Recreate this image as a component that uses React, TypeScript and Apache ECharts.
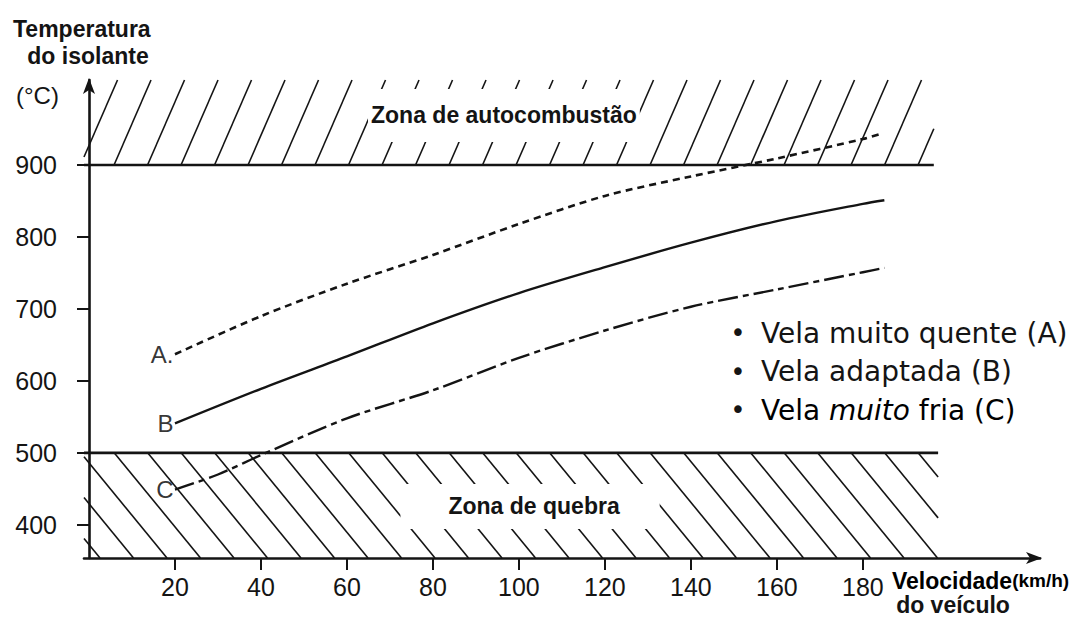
import React, { useEffect, useRef } from "react";
import * as echarts from "echarts";

// ---- data ----
const xTickValues = [20, 40, 60, 80, 100, 120, 140, 160, 180];
const yTickValues = [400, 500, 600, 700, 800, 900];
const xMin = -1.16;
const xMax = 221.2;
const yMin = 354;
const yMax = 1018;

const speedA = [20, 40, 60, 80, 100, 120, 140, 160, 180, 184];
const tempA = [637, 690, 735, 775, 818, 857, 884, 909, 936, 943];
const speedB = [20, 40, 60, 80, 100, 120, 140, 160, 180, 185];
const tempB = [541, 589, 634, 680, 722, 758, 792, 822, 846, 851];
const speedC = [20, 30, 40, 60, 80, 100, 120, 140, 160, 180, 185];
const tempC = [449, 470, 497, 548, 587, 632, 670, 703, 727, 751, 757];

const curveNames = ["A.", "B", "C"];
const zoneNames = ["Zona de autocombustão", "Zona de quebra"];
const zoneXStart = [xMin, xMin];
const zoneXEnd = [196.5, 197.5];
const zoneYLow = [900, yMin];
const zoneYHigh = [yMax, 500];

const legendLines = ["Vela muito quente (A)", "Vela adaptada (B)", "Vela muito fria (C)"];

const INK = "#141414";
const SANS = "'Liberation Sans', Arial, sans-serif";
const LEG = "'DejaVu Sans', sans-serif";

const pairs = (xs: number[], ys: number[]) => xs.map((x, i) => [x, ys[i]]);

function zoneRender(params: any, api: any) {
  const x0 = api.value(0);
  const x1 = api.value(1);
  const y0 = api.value(2);
  const y1 = api.value(3);
  const tl = api.coord([x0, y1]);
  const br = api.coord([x1, y0]);
  const L = tl[0];
  const T = tl[1];
  const R = br[0];
  const B = br[1];
  const upper = params.dataIndex === 0;
  const slope = upper ? 2.3 : 1.22;
  const spacing = 33.5;
  const H = B - T;
  const run = H / slope;
  const children: any[] = [];
  const lineStyle = { stroke: INK, lineWidth: 1.6 };
  const start = L - run - spacing + (upper ? 0 : 16);
  for (let xb = start; xb < R + spacing; xb += spacing) {
    let xs: number, ys: number, xe: number, ye: number;
    if (upper) {
      xs = xb; ys = B; xe = xb + run; ye = T;
      if (xs < L) { ys = B - (L - xs) * slope; xs = L; }
      if (xe > R) { ye = T + (xe - R) * slope; xe = R; }
      if (ys <= T || ye >= B) continue;
    } else {
      xs = xb; ys = T; xe = xb + run; ye = B;
      if (xs < L) { ys = T + (L - xs) * slope; xs = L; }
      if (xe > R) { ye = B - (xe - R) * slope; xe = R; }
      if (ys >= B || ye <= T) continue;
    }
    if (xe - xs < 0.5) continue;
    children.push({ type: "line", shape: { x1: xs, y1: ys, x2: xe, y2: ye }, style: lineStyle });
  }
  const by = upper ? B : T;
  children.push({
    type: "line",
    shape: { x1: L, y1: by, x2: R, y2: by },
    style: { stroke: INK, lineWidth: 2.6 },
  });
  const cx = (L + R) / 2 + (upper ? -5 : 19);
  const cy = (T + B) / 2 + (upper ? -7 : 1);
  children.push({
    type: "text",
    x: cx,
    y: cy,
    style: {
      text: zoneNames[params.dataIndex],
      font: `bold 23px ${SANS}`,
      fill: INK,
      align: "center",
      verticalAlign: "middle",
      backgroundColor: "#ffffff",
      padding: upper ? [15, 3] : [11, 40, 11, 48],
    },
  });
  return { type: "group", children };
}

export default function App() {
  const ref = useRef<HTMLDivElement>(null);
  useEffect(() => {
    if (!ref.current) return;
    const chart = echarts.init(ref.current, undefined, { renderer: "svg" });
    const axisFont = { fontFamily: SANS, color: INK };
    const curves = [
      { name: "A", pts: pairs(speedA, tempA), type: [7, 5] as any, width: 2.6 },
      { name: "B", pts: pairs(speedB, tempB), type: "solid" as any, width: 2.4 },
      { name: "C", pts: pairs(speedC, tempC), type: [20, 5, 6, 5] as any, width: 2.4 },
    ];
    chart.setOption({
      animation: false,
      backgroundColor: "#ffffff",
      grid: { left: 84, right: 46, top: 80, bottom: 60, containLabel: false, outerBoundsMode: "none" },
      xAxis: {
        type: "value",
        min: xMin,
        max: xMax,
        splitLine: { show: false },
        axisLine: {
          show: true,
          lineStyle: { color: INK, width: 2.6 },
          symbol: ["none", "arrow"],
          symbolSize: [9, 16],
          symbolOffset: [0, 2],
        },
        axisTick: { show: true, customValues: xTickValues, length: 12, lineStyle: { color: INK, width: 2 } },
        axisLabel: { show: true, customValues: xTickValues, margin: 16, fontSize: 25, ...axisFont },
      },
      yAxis: {
        type: "value",
        min: yMin,
        max: yMax,
        splitLine: { show: false },
        axisLine: {
          show: true,
          lineStyle: { color: INK, width: 2.6 },
          symbol: ["none", "arrow"],
          symbolSize: [9, 16],
          symbolOffset: [0, 2],
        },
        axisTick: { show: true, customValues: yTickValues, length: 12, lineStyle: { color: INK, width: 2 } },
        axisLabel: { show: true, customValues: yTickValues, margin: 27, fontSize: 25, ...axisFont },
      },
      series: [
        {
          type: "custom",
          renderItem: zoneRender,
          encode: { x: [0, 1], y: [2, 3] },
          data: zoneNames.map((_, i) => [zoneXStart[i], zoneXEnd[i], zoneYLow[i], zoneYHigh[i]]),
          z: 1,
          silent: true,
        },
        ...curves.map((c) => ({
          type: "line",
          name: c.name,
          data: c.pts,
          symbol: "none",
          smooth: 0.3,
          lineStyle: { color: INK, width: c.width, type: c.type },
          z: 3,
        })),
        {
          type: "scatter",
          name: "labels",
          symbolSize: 1,
          itemStyle: { color: "rgba(0,0,0,0)" },
          data: curves.map((c, i) => ({ value: c.pts[0], name: curveNames[i] })),
          label: {
            show: true,
            formatter: "{b}",
            position: "left",
            distance: 1,
            color: "#000000",
            fontFamily: SANS,
            fontSize: 24,
            textBorderWidth: 0,
          },
          z: 4,
          silent: true,
        },
      ],
      graphic: [
        {
          type: "text",
          left: 13,
          top: 17,
          style: { text: "Temperatura", font: `bold 23px ${SANS}`, fill: INK },
        },
        {
          type: "text",
          x: 88,
          y: 44,
          style: { text: "do isolante", font: `bold 23px ${SANS}`, fill: INK, align: "center" },
        },
        {
          type: "text",
          x: 16,
          y: 83,
          style: { text: "(°C)", font: `24px ${SANS}`, fill: INK },
        },
        {
          type: "text",
          x: 892,
          y: 569,
          style: {
            text: "{b|Velocidade}{s|(km/h)}",
            rich: {
              b: { fontFamily: SANS, fontWeight: "bold", fontSize: 23, color: INK },
              s: { fontFamily: SANS, fontWeight: "bold", fontSize: 19, color: INK },
            },
          },
        },
        {
          type: "text",
          x: 953,
          y: 593,
          style: { text: "do veículo", font: `bold 23px ${SANS}`, fill: INK, align: "center" },
        },
        ...legendLines.map((t, i) => ({
          type: "text",
          x: 738,
          y: 333 + i * 38.5,
          style: { text: "•", font: `26px ${LEG}`, fill: INK, align: "center", verticalAlign: "middle" },
        })),
        {
          type: "text",
          x: 761,
          y: 333,
          style: { text: legendLines[0], font: `28px ${LEG}`, fill: INK, verticalAlign: "middle" },
        },
        {
          type: "text",
          x: 761,
          y: 371.5,
          style: { text: legendLines[1], font: `28px ${LEG}`, fill: INK, verticalAlign: "middle" },
        },
        {
          type: "text",
          x: 761,
          y: 410,
          style: {
            text: "{n|Vela }{i|muito}{n| fria (C)}",
            verticalAlign: "middle",
            rich: {
              n: { fontFamily: LEG, fontSize: 28, color: INK },
              i: { fontFamily: LEG, fontSize: 28, fontStyle: "italic", color: INK },
            },
          },
        },
      ],
    });
    return () => chart.dispose();
  }, []);
  return <div ref={ref} style={{ position: "absolute", left: 0, top: 0, width: 1086, height: 618 }} />;
}
